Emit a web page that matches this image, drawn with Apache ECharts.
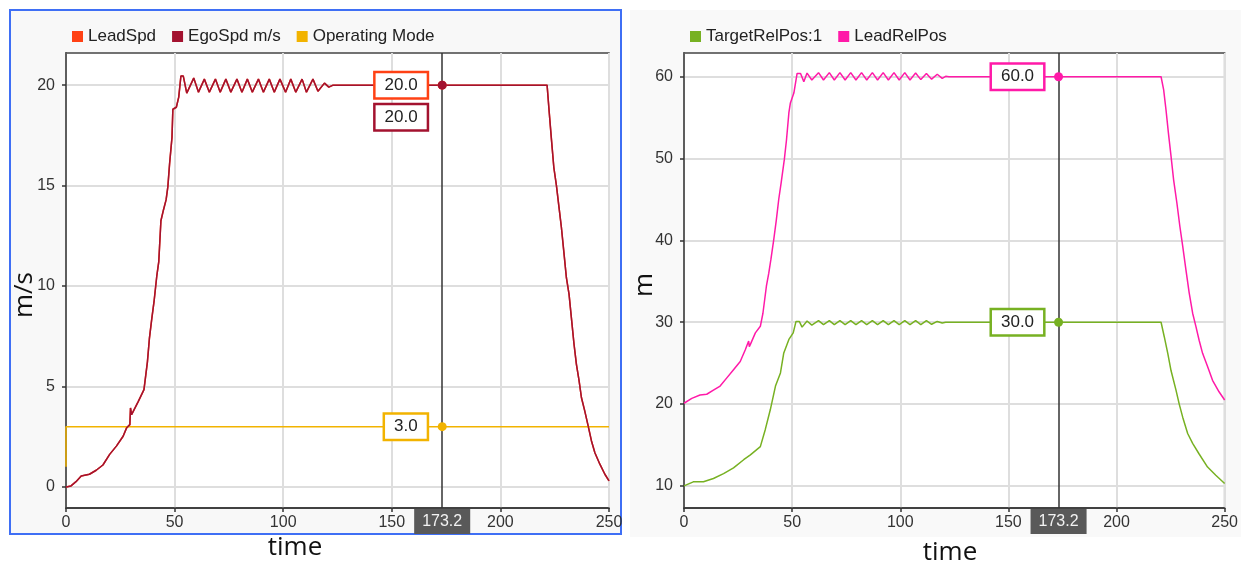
<!DOCTYPE html>
<html><head><meta charset="utf-8">
<script src="https://cdn.jsdelivr.net/npm/echarts@6/dist/echarts.min.js"></script>
<style>
html,body{margin:0;padding:0;background:#fff;width:1241px;height:569px;overflow:hidden}
#lp{position:absolute;left:9px;top:9px;width:613px;height:526px;box-sizing:border-box;border:2px solid #3f6ff5;background:#f8f8f8}
#rp{position:absolute;left:630px;top:10px;width:611px;height:527px;background:#f9f9f9}
#chart{position:absolute;left:0;top:0;width:1241px;height:569px}
</style></head><body>
<div id="lp"></div><div id="rp"></div><div id="chart"></div>
<script>
// ---- data ----
const timeTicks = [0, 50, 100, 150, 200, 250];
const speedTicks = [0, 5, 10, 15, 20];
const posTicks = [10, 20, 30, 40, 50, 60];
const cursorTime = 173.2;
const cursorLeadSpd = 20.0;
const cursorEgoSpd = 20.0;
const cursorMode = 3.0;
const cursorTargetRelPos = 30.0;
const cursorLeadRelPos = 60.0;

const egoSpd = [[0,0],[2.3,0.05],[4.6,0.26],[7,0.54],[10.8,0.63],[13.9,0.83],[17,1.09],[20.1,1.62],[23.2,2.03],[26.3,2.52],[27.9,2.94],[29.4,3.1],[29.7,3.93],[30.2,3.6],[31,3.68],[33.3,4.26],[35.9,4.84],[37.5,6.24],[38.4,7.39],[39.5,8.38],[40.6,9.29],[41.8,10.5],[42.7,11.2],[43.7,13.25],[44.9,13.8],[46.1,14.3],[46.9,14.95],[47.7,16.1],[48.8,17.4],[49.2,18.8],[50.8,18.9],[51.9,19.4],[52.9,20.45],[54.0,20.45],[55.6,19.6],[56.5,19.65],[58.8,20.35],[61,19.65],[63.7,20.3],[66,19.65],[68.8,20.3],[71,19.65],[73.6,20.3],[75.9,19.65],[78.7,20.3],[81,19.65],[83.5,20.3],[85.8,19.65],[88.6,20.3],[90.9,19.65],[93.6,20.3],[95.9,19.65],[98.5,20.3],[101.1,19.65],[103.5,20.3],[105.8,19.65],[108.7,20.3],[110.7,19.65],[113.7,20.3],[116,19.7],[119,20.1],[121,19.9],[123,20],[221.5,20],[222.4,18.75],[223.5,17.3],[224.6,15.9],[225.8,15],[227,13.9],[228.1,12.9],[229.3,11.6],[230.4,10.4],[231.6,9.6],[232.7,8.4],[233.9,7.1],[235,6.1],[236.2,5.3],[237.3,4.45],[238.8,3.8],[240.4,3.04],[241.9,2.3],[243.5,1.7],[245.8,1.13],[248.1,0.63],[250,0.3]];
const leadSpd = egoSpd; // lead speed trace coincides with ego speed (hidden underneath)
const operatingMode = [[0,1],[0,3],[250,3]];

const targetRelPos = [[0,10],[4.3,10.5],[9,10.5],[13.6,10.9],[18.3,11.5],[22.9,12.2],[27.6,13.2],[30.7,13.8],[35.3,14.8],[37.6,16.9],[39.9,19.3],[42.3,22.2],[44.6,23.8],[46.1,26.2],[48.5,27.9],[50.5,28.7],[51.8,30.1],[53.3,30.1],[54.6,29.4],[56.9,30.15],[59.1,29.65],[62.2,30.2],[64.5,29.7],[67.2,30.2],[69.5,29.7],[72.1,30.2],[74.5,29.7],[77.1,30.2],[79.5,29.7],[82.1,30.2],[84.5,29.7],[87.1,30.2],[89.5,29.7],[92.1,30.2],[94.5,29.7],[97.1,30.2],[99.5,29.7],[102.1,30.2],[104.5,29.7],[107.1,30.2],[109.5,29.7],[112.1,30.2],[114.5,29.75],[117.1,30.1],[119.4,29.9],[121,30],[220.6,30],[222.1,28.2],[223.7,26.2],[225.2,24.1],[227.5,21.7],[229,20],[230.6,18.4],[232.9,16.4],[235.2,15.2],[238.2,13.9],[242.1,12.3],[245.9,11.3],[250,10.3]];

const leadRelPos = [[0,20.1],[3.6,20.7],[7.4,21.1],[10.5,21.2],[13.6,21.7],[16.7,22.2],[19.8,23.2],[22.9,24.2],[26,25.2],[28.3,26.6],[29.9,27.7],[30.2,27.0],[30.7,27.3],[33,28.7],[35.3,29.5],[36.5,31.1],[38.1,34.4],[39.2,36],[40.2,37.7],[41.5,40.1],[42.7,42.5],[43.8,45],[44.9,47],[46.4,49.9],[47.4,52.3],[48.5,55.6],[49.2,56.8],[50.8,58],[52.3,60.4],[53.9,60.4],[55.4,59.4],[56.9,60.45],[59.1,59.6],[62.2,60.5],[64.5,59.6],[67.2,60.5],[69.5,59.6],[72.1,60.5],[74.5,59.6],[77.1,60.5],[79.5,59.6],[82.1,60.5],[84.5,59.6],[87.1,60.5],[89.5,59.6],[92.1,60.5],[94.5,59.6],[97.1,60.5],[99.5,59.6],[102.1,60.5],[104.5,59.6],[107.1,60.45],[109.5,59.65],[112.1,60.4],[114.5,59.7],[117.1,60.3],[119.4,59.8],[121,60.05],[122.5,60],[220.6,60],[221.8,58.4],[222.9,55.9],[224,53.1],[225.2,50.3],[226.4,47.4],[227.9,44.6],[229.3,41.7],[230.6,39.3],[232.1,36.4],[233.6,33.6],[235.2,31.1],[236.7,29.5],[238.2,27.8],[239.8,26.2],[242.1,24.6],[244.4,22.9],[247.4,21.5],[250,20.5]];

// ---- styles ----
const FONT = 'Liberation Sans, Arial, sans-serif';
const C = {lead:'#ff4114', ego:'#a3122f', mode:'#f2b300', target:'#77b122', leadPos:'#ff1aa8'};

function xAxisCfg(gi){
  return {gridIndex:gi, type:'value', min:0, max:250, interval:50,
    axisLine:{show:true, onZero:false, lineStyle:{color:'#333', width:1.5}},
    axisTick:{show:true, length:4, lineStyle:{color:'#333', width:1.5}},
    axisLabel:{margin:7, fontSize:16, color:'#333', fontFamily:FONT},
    splitLine:{show:true, lineStyle:{color:'#dedede', width:2}}};
}
function yAxisCfg(gi, mn, mx, ticks){
  return {gridIndex:gi, type:'value', min:mn, max:mx,
    axisLine:{show:true, onZero:false, lineStyle:{color:'#333', width:1.5}},
    axisTick:{show:true, length:4, customValues:ticks, lineStyle:{color:'#333', width:1.5}},
    axisLabel:{margin:11, fontSize:16, color:'#333', fontFamily:FONT, customValues:ticks},
    splitLine:{show:true, lineStyle:{color:'#dedede', width:2}}};
}
function markAt(value, color, offsetY){
  return {symbol:'circle', symbolSize:9, silent:true, animation:false,
    itemStyle:{color:color},
    label:{show:true, position:'left', distance:11, offset:[0, offsetY],
      formatter: p => Number(p.value).toFixed(1),
      backgroundColor:'#fff', borderColor:color, borderWidth:2.5, padding:[4,9,3,9],
      fontSize:17, fontFamily:FONT, color:'#222'},
    data:[{coord:[cursorTime, value], value:value}]};
}
function cursorLine(){
  return {symbol:['none','none'], silent:true, animation:false,
    lineStyle:{color:'#333', width:1.5, type:'solid'},
    label:{show:true, position:'start', distance:1, formatter: () => cursorTime.toFixed(1),
      backgroundColor:'#595959', color:'#f2f2f2', padding:[5,8,4,8], fontSize:16, fontFamily:FONT},
    data:[{xAxis:cursorTime}]};
}
function lineSeries(name, data, color, gi, z){
  return {name:name, type:'line', xAxisIndex:gi, yAxisIndex:gi, data:data, showSymbol:false,
    symbol:'none', color:color, lineStyle:{color:color, width:1.5}, z:z||2, animation:false};
}

const chart = echarts.init(document.getElementById('chart'), null, {renderer:'canvas'});
const sLead = lineSeries('LeadSpd', leadSpd, C.lead, 0, 2);
sLead.markPoint = markAt(cursorLeadSpd, C.lead, 0);
const sEgo = lineSeries('EgoSpd m/s', egoSpd, C.ego, 0, 4);
sEgo.markPoint = markAt(cursorEgoSpd, C.ego, 32);
sEgo.markLine = cursorLine();
const sMode = lineSeries('Operating Mode', operatingMode, C.mode, 0, 3);
sMode.markPoint = markAt(cursorMode, C.mode, 0);
const sTarget = lineSeries('TargetRelPos:1', targetRelPos, C.target, 1, 3);
sTarget.markPoint = markAt(cursorTargetRelPos, C.target, 0);
const sLeadPos = lineSeries('LeadRelPos', leadRelPos, C.leadPos, 1, 3);
sLeadPos.markPoint = markAt(cursorLeadRelPos, C.leadPos, 0);
sLeadPos.markLine = cursorLine();

const legendBase = {icon:'rect', itemWidth:11, itemHeight:11, itemGap:16, top:23,
  textStyle:{fontSize:17, color:'#222', fontFamily:FONT}};

chart.setOption({
  animation:false,
  backgroundColor:'transparent',
  legend:[
    Object.assign({}, legendBase, {left:67, data:['LeadSpd','EgoSpd m/s','Operating Mode']}),
    Object.assign({}, legendBase, {left:685, data:['TargetRelPos:1','LeadRelPos']})
  ],
  grid:[
    {left:66, top:53, width:543, height:455, show:true, backgroundColor:'#fff', borderColor:'#444', borderWidth:1.5},
    {left:684, top:53, width:543, height:455, show:true, backgroundColor:'#fff', borderColor:'#444', borderWidth:1.5}
  ],
  xAxis:[xAxisCfg(0), xAxisCfg(1)],
  yAxis:[yAxisCfg(0, -1.05, 21.6, speedTicks), yAxisCfg(1, 7.3, 62.9, posTicks)],
  series:[sLead, sEgo, sMode, sTarget, sLeadPos],
  graphic:[
    {type:'text', x:295, y:548, style:{text:'time', font:'26px "Open Sans", sans-serif', fill:'#111', align:'center', verticalAlign:'middle'}},
    {type:'text', x:950, y:553, style:{text:'time', font:'26px "Open Sans", sans-serif', fill:'#111', align:'center', verticalAlign:'middle'}},
    {type:'text', x:25, y:295, rotation:Math.PI/2, style:{text:'m/s', font:'26px "Open Sans", sans-serif', fill:'#111', align:'center', verticalAlign:'middle'}},
    {type:'text', x:645, y:285, rotation:Math.PI/2, style:{text:'m', font:'26px "Open Sans", sans-serif', fill:'#111', align:'center', verticalAlign:'middle'}}
  ]
});
</script></body></html>
